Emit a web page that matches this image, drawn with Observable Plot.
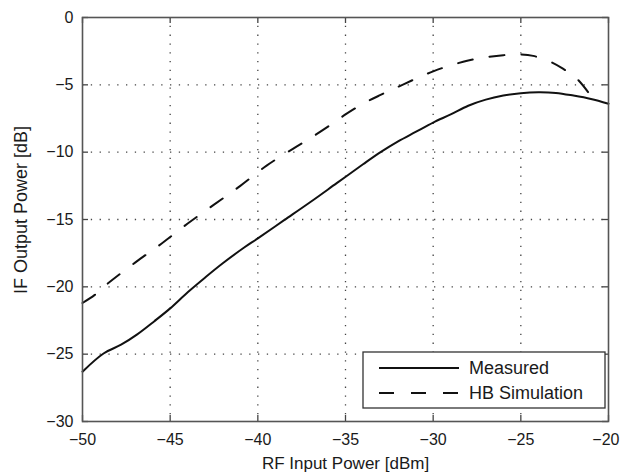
<!DOCTYPE html>
<html>
<head>
<meta charset="utf-8">
<script src="https://cdn.jsdelivr.net/npm/d3@7"></script>
<script src="https://cdn.jsdelivr.net/npm/@observablehq/plot@0.6"></script>
<style>
  html, body { margin: 0; padding: 0; background: #fff; }
  #wrap { position: relative; width: 620px; height: 474px; }
  #legend { position: absolute; left: 0; top: 0; pointer-events: none; }
</style>
</head>
<body>
<div id="wrap"></div>
<script>
// ---- data ----
const xTicks = [-50, -45, -40, -35, -30, -25, -20];
const yTicks = [-30, -25, -20, -15, -10, -5, 0];
const xLabel = "RF Input Power [dBm]";
const yLabel = "IF Output Power [dB]";
const seriesNames = ["Measured", "HB Simulation"];

const measuredX = [-50, -48.8, -47.8, -46.9, -45.9, -45, -44, -43, -42, -40.8, -40, -38.5, -37, -35.5, -34, -33, -32, -31, -30, -29, -28, -27, -26, -25, -24, -23, -22, -21, -20];
const measuredY = [-26.3, -24.95, -24.3, -23.55, -22.55, -21.6, -20.4, -19.3, -18.25, -17.1, -16.4, -15.05, -13.7, -12.3, -10.9, -10.0, -9.2, -8.5, -7.8, -7.2, -6.55, -6.1, -5.8, -5.62, -5.55, -5.6, -5.8, -6.05, -6.4];

const hbX = [-50, -49.3, -48.6, -47, -45.5, -44, -42.5, -41, -39.5, -38, -37, -36, -35, -34, -33, -32, -31, -30, -29, -28, -27, -26, -25, -24.3, -23.3, -22.6, -21.8, -21.1];
const hbY = [-21.2, -20.6, -19.8, -18.2, -16.8, -15.3, -13.9, -12.5, -11.0, -9.75, -8.95, -8.1, -7.2, -6.4, -5.75, -5.15, -4.55, -4.0, -3.55, -3.2, -2.95, -2.8, -2.75, -2.85, -3.3, -3.8, -4.55, -5.65];

// ---- build tables ----
const measured = measuredX.map((x, i) => ({x, y: measuredY[i]}));
const hb = hbX.map((x, i) => ({x, y: hbY[i]}));

const W = 620, H = 474;
const mL = 82, mR = 12, mT = 17, mB = 53;
const fw = W - mL - mR, fh = H - mT - mB;
const tick = 6;
const dash = "15,17";
const font = "'Liberation Sans', Arial, Helvetica, sans-serif";

const chart = Plot.plot({
  width: W, height: H,
  marginLeft: mL, marginRight: mR, marginTop: mT, marginBottom: mB,
  style: {fontFamily: font, fontSize: "16px", color: "#1a1a1a", background: "#fff", overflow: "visible"},
  x: {domain: [-50, -20]},
  y: {domain: [-30, 0]},
  marks: [
    Plot.gridX(xTicks.slice(1, -1), {stroke: "#444", strokeOpacity: 1, strokeWidth: 1.3, strokeDasharray: "1.3,7.5"}),
    Plot.gridY(yTicks.slice(1, -1), {stroke: "#444", strokeOpacity: 1, strokeWidth: 1.3, strokeDasharray: "1.3,7.5"}),
    Plot.tickX(xTicks, {x: d => d, insetTop: fh - tick, stroke: "#444", strokeWidth: 1.3}),
    Plot.tickX(xTicks, {x: d => d, insetBottom: fh - tick, stroke: "#444", strokeWidth: 1.3}),
    Plot.tickY(yTicks, {y: d => d, insetRight: fw - tick, stroke: "#444", strokeWidth: 1.3}),
    Plot.tickY(yTicks, {y: d => d, insetLeft: fw - tick, stroke: "#444", strokeWidth: 1.3}),
    Plot.line(hb, {x: "x", y: "y", stroke: "#111", strokeWidth: 2, strokeDasharray: dash, curve: "catmull-rom"}),
    Plot.line(measured, {x: "x", y: "y", stroke: "#111", strokeWidth: 2, curve: "catmull-rom"}),
    Plot.frame({stroke: "#555", strokeWidth: 1.6}),
    Plot.axisX(xTicks.slice(0, -1), {tickSize: 0, tickPadding: 12, label: null, fontSize: 16}),
    Plot.axisX(xTicks.slice(-1), {tickSize: 0, tickPadding: 12, label: null, fontSize: 16, textAnchor: "end", dx: 11}),
    Plot.axisY(yTicks, {tickSize: 0, tickPadding: 9, label: null, fontSize: 16}),
    Plot.text([xLabel], {frameAnchor: "bottom", dy: 42, fontSize: 17, lineAnchor: "middle", textAnchor: "middle", text: d => d})
  ]
});
document.getElementById("wrap").appendChild(chart);

// ---- overlay: y-axis title and legend ----
const lg = d3.select("#wrap").append("svg").attr("id", "legend").attr("width", W).attr("height", H);
lg.append("text")
  .attr("transform", `translate(${mL - 61},${mT + fh / 2 - 9}) rotate(-90)`)
  .attr("text-anchor", "middle").attr("dy", "0.35em")
  .attr("font-family", font).attr("font-size", 18).attr("fill", "#1a1a1a")
  .text(yLabel);

const legendStyles = [{dash: null}, {dash: dash}];
const box = {x: 363, y: 352, w: 242, h: 56};
lg.append("rect").attr("x", box.x).attr("y", box.y).attr("width", box.w).attr("height", box.h)
  .attr("fill", "#fff").attr("stroke", "#333").attr("stroke-width", 1.3);
seriesNames.forEach((name, i) => {
  const cy = box.y + 16 + i * 25;
  lg.append("line").attr("x1", box.x + 16).attr("x2", box.x + 96).attr("y1", cy).attr("y2", cy)
    .attr("stroke", "#111").attr("stroke-width", 2)
    .attr("stroke-dasharray", legendStyles[i].dash);
  lg.append("text").attr("x", box.x + 106).attr("y", cy).attr("dy", "0.35em")
    .attr("font-family", font).attr("font-size", 18)
    .attr("fill", "#1a1a1a").text(name);
});
</script>
</body>
</html>
